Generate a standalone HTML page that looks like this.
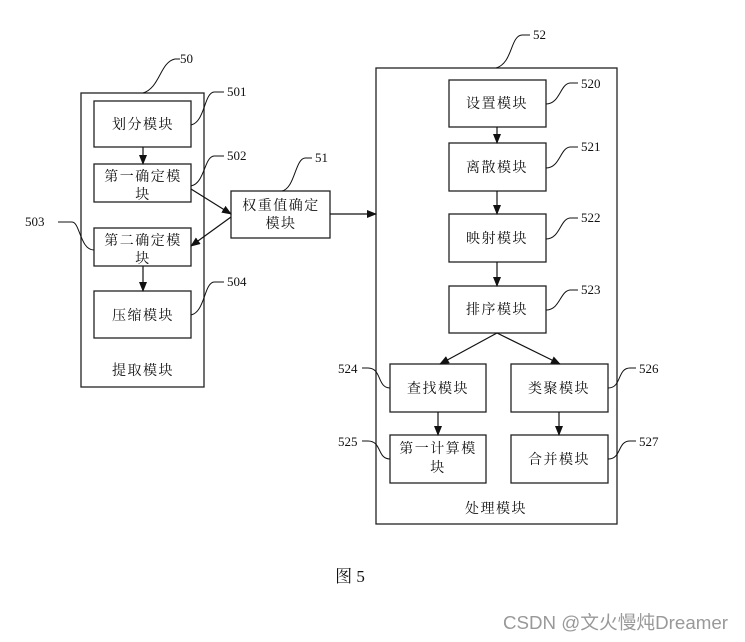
<!DOCTYPE html>
<html><head><meta charset="utf-8"><style>
html,body{margin:0;padding:0;background:#fff;}
svg{display:block;}
text{font-family:"Liberation Serif","Noto Serif CJK SC",serif;fill:#111;}
.c{font-family:"Liberation Serif","Noto Serif CJK SC","Noto Sans CJK SC",serif;font-size:14px;text-anchor:middle;letter-spacing:1.5px;}
.n{font-size:13px;}
</style></head><body>
<svg width="745" height="642" viewBox="0 0 745 642" xmlns="http://www.w3.org/2000/svg">
<defs><marker id="a" markerWidth="10" markerHeight="8" refX="9" refY="4" orient="auto" markerUnits="userSpaceOnUse"><path d="M0,0 L10,4 L0,8 z" fill="#111"/></marker></defs>
<g fill="none" stroke="#222" stroke-width="1.3">
<rect x="81" y="93" width="123" height="294"/>
<rect x="94" y="101" width="97" height="46"/>
<rect x="94" y="164" width="97" height="38"/>
<rect x="94" y="228" width="97" height="38"/>
<rect x="94" y="291" width="97" height="47"/>
<rect x="231" y="191" width="99" height="47"/>
<rect x="376" y="68" width="241" height="456"/>
<rect x="449" y="80" width="97" height="47"/>
<rect x="449" y="143" width="97" height="48"/>
<rect x="449" y="214" width="97" height="48"/>
<rect x="449" y="286" width="97" height="47"/>
<rect x="390" y="364" width="96" height="48"/>
<rect x="511" y="364" width="97" height="48"/>
<rect x="390" y="435" width="96" height="48"/>
<rect x="511" y="435" width="97" height="48"/>
</g>
<g fill="none" stroke="#111" stroke-width="1.2" marker-end="url(#a)">
<line x1="143" y1="147" x2="143" y2="164"/>
<line x1="191" y1="189" x2="231" y2="214"/>
<line x1="231" y1="217" x2="191" y2="246"/>
<line x1="143" y1="266" x2="143" y2="291"/>
<line x1="330" y1="214" x2="376" y2="214"/>
<line x1="497" y1="127" x2="497" y2="143"/>
<line x1="497" y1="191" x2="497" y2="214"/>
<line x1="497" y1="262" x2="497" y2="286"/>
<line x1="497" y1="333" x2="440" y2="364"/>
<line x1="497" y1="333" x2="560" y2="364"/>
<line x1="438" y1="412" x2="438" y2="435"/>
<line x1="559" y1="412" x2="559" y2="435"/>
</g>
<g fill="none" stroke="#111" stroke-width="1">
<path d="M143,93 C160,88 160,62 175,59 L180,59"/>
<path d="M191,125 C205,122 204,93 214,92 L224,92"/>
<path d="M191,186 C205,183 204,157 214,156 L224,156"/>
<path d="M94,250 C80,250 80,222 72,222 L58,222"/>
<path d="M191,315 C205,312 204,283 214,282 L224,282"/>
<path d="M282,191 C295,188 295,159 305,158 L312,158"/>
<path d="M496,68 C513,63 510,36 522,35 L530,35"/>
<path d="M546,104 C560,104 560,84 570,83 L578,83"/>
<path d="M546,168 C560,168 560,148 570,147 L578,147"/>
<path d="M546,239 C560,239 560,219 570,218 L578,218"/>
<path d="M546,310 C560,310 560,291 570,290 L578,290"/>
<path d="M390,388 C377,388 382,368 368,368 L362,368"/>
<path d="M390,459 C377,459 382,441 368,441 L362,441"/>
<path d="M608,388 C622,388 617,368 630,368 L636,368"/>
<path d="M608,459 C622,459 617,441 630,441 L636,441"/>
</g>
<g class="n">
<text x="180" y="63">50</text>
<text x="227" y="96">501</text>
<text x="227" y="160">502</text>
<text x="25" y="226">503</text>
<text x="227" y="286">504</text>
<text x="315" y="162">51</text>
<text x="533" y="39">52</text>
<text x="581" y="88">520</text>
<text x="581" y="151">521</text>
<text x="581" y="222">522</text>
<text x="581" y="294">523</text>
<text x="338" y="373">524</text>
<text x="338" y="446">525</text>
<text x="639" y="373">526</text>
<text x="639" y="446">527</text>
</g>
<g class="c">
<text x="143" y="129">划分模块</text>
<text x="143" y="181">第一确定模</text>
<text x="143" y="199">块</text>
<text x="143" y="245">第二确定模</text>
<text x="143" y="263">块</text>
<text x="143" y="320">压缩模块</text>
<text x="143" y="375">提取模块</text>
<text x="281" y="210">权重值确定</text>
<text x="281" y="228">模块</text>
<text x="497" y="108">设置模块</text>
<text x="497" y="172">离散模块</text>
<text x="497" y="243">映射模块</text>
<text x="497" y="314">排序模块</text>
<text x="438" y="393">查找模块</text>
<text x="559" y="393">类聚模块</text>
<text x="438" y="453">第一计算模</text>
<text x="438" y="472">块</text>
<text x="559" y="464">合并模块</text>
<text x="496" y="513">处理模块</text>
<text x="350" y="582" style="font-size:17px;letter-spacing:0">图 5</text>
</g>
<text x="503" y="629" textLength="225" lengthAdjust="spacingAndGlyphs" style="font-family:'Liberation Sans','Noto Sans CJK SC',sans-serif;font-size:18.5px;fill:#999">CSDN @文火慢炖Dreamer</text>
</svg>
</body></html>
